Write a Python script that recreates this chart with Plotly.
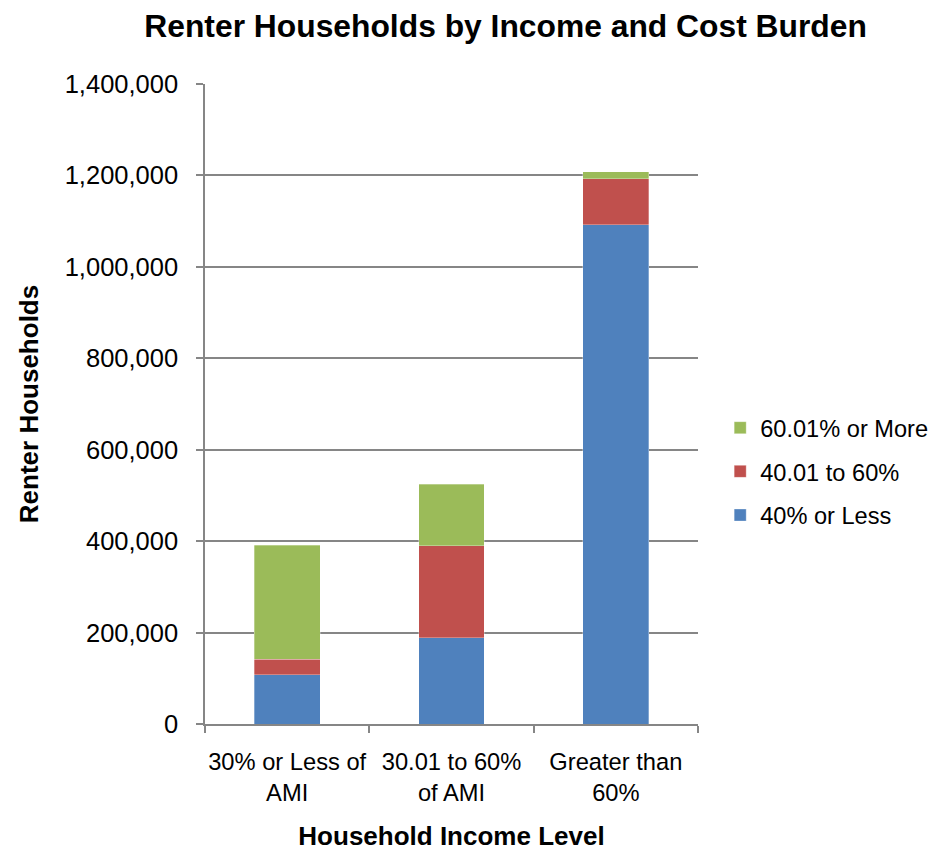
import plotly.graph_objects as go

categories = ["30% or Less of<br>AMI", "30.01 to 60%<br>of AMI", "Greater than<br>60%"]
series_names = ["40% or Less", "40.01 to 60%", "60.01% or More"]
low_burden = [108000, 189000, 1092000]
mid_burden = [34000, 201000, 101000]
high_burden = [249000, 135000, 15000]
colors = ["#4F81BD", "#C0504D", "#9BBB59"]

FONT = "Liberation Sans, Arial, sans-serif"
fig = go.Figure()
for i, (name, vals) in enumerate(zip(series_names, [low_burden, mid_burden, high_burden])):
    fig.add_trace(go.Bar(
        x=categories, y=vals, name=name, legendgroup=name, legendrank=1000 - i,
        marker=dict(color=colors[i], line=dict(color="rgba(255,255,255,0.6)", width=0.5)),
    ))

fig.update_layout(
    width=946, height=851,
    barmode="stack", bargap=0.6,
    plot_bgcolor="white", paper_bgcolor="white",
    margin=dict(l=197, r=256, t=76, b=135),
    font=dict(family=FONT, size=24, color="#000000"),
    title=dict(text="<b>Renter Households by Income and Cost Burden</b>",
               x=0.526, xanchor="center", y=0.979, yanchor="middle",
               font=dict(size=31.8, family=FONT)),
    legend=dict(x=1.045, y=0.394, xanchor="left", yanchor="middle",
                traceorder="grouped", tracegroupgap=10,
                font=dict(size=23.6, family=FONT)),
    showlegend=True,
)
fig.update_yaxes(
    range=[0, 1400000], dtick=200000, tickformat=",",
    showgrid=True, gridcolor="#868686", gridwidth=1.5,
    showline=True, linecolor="#868686", linewidth=1.5,
    ticks="outside", ticklen=7, tickcolor="#868686", tickwidth=1.5,
    ticklabelstandoff=13,
    zeroline=False,
    title=dict(text="<b>Renter Households</b>", font=dict(size=26, family=FONT), standoff=19),
    tickfont=dict(size=25.5),
)
fig.update_xaxes(
    showline=True, linecolor="#868686", linewidth=1.5,
    ticks="outside", ticklen=7, tickcolor="#868686", tickwidth=1.5, tickson="boundaries",
    tickangle=0, ticklabelstandoff=16,
    title=dict(text="<b>Household Income Level</b>", font=dict(size=26, family=FONT), standoff=22),
    tickfont=dict(size=23.7),
)
fig.write_html("out.html")
